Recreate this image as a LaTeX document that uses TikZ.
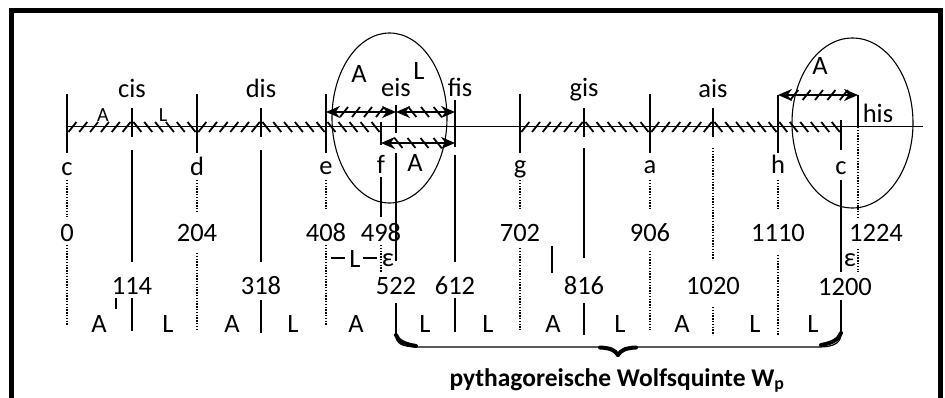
\documentclass[tikz,border=0pt]{standalone}
\usepackage{fontspec}
\setmainfont{Carlito}
\usetikzlibrary{arrows.meta}

% short diagonal strokes along a horizontal stretch: #1 start x, #2 end x,
% #3 y, #4 number of strokes, #5 half width (positive = /, negative = \)
\newcommand\hatchrow[5]{%
  \foreach \k in {1,...,#4}{%
    \pgfmathsetmacro\hx{#1+(#2-#1)*(\k-0.5)/#4}%
    \pgfmathsetmacro\hl{\hx-(#5)}%
    \pgfmathsetmacro\hr{\hx+(#5)}%
    \draw[hatch] (\hl,#3+5) -- (\hr,#3-5);
  }}

\begin{document}
\begin{tikzpicture}[x=1pt,y=-1pt,
  lbl/.style={inner sep=0pt,anchor=base,font=\fontsize{26.5}{31}\selectfont},
  sml/.style={inner sep=0pt,anchor=base,font=\fontsize{20}{24}\selectfont},
  tick/.style={line width=2.3pt},
  axis/.style={line width=1pt},
  solidv/.style={line width=1.2pt},
  dotv/.style={line width=1.2pt,dash pattern=on 1.4pt off 1.4pt},
  hatch/.style={line width=1.8pt},
  dimarrow/.style={line width=2pt,{Stealth[length=14pt,width=12pt]}-{Stealth[length=14pt,width=12pt]}},
  frame/.style={line width=5pt},
  oval/.style={line width=1.1pt},
]
\useasboundingbox (0,0) rectangle (945,398);

% frame
\draw[frame] (11.5,398) -- (11.5,10.5) -- (940.5,10.5) -- (940.5,398);

% axis
\coordinate (axL) at (67,127);
\coordinate (axR) at (923,127);
\draw[axis] (axL) -- (axR);

% hatching on the axis (/ = Apotome, \ = Limma)
\hatchrow{67}{132}{127}{6}{4}
\hatchrow{132}{197}{127}{6}{-4}
\hatchrow{197}{261}{127}{6}{4}
\hatchrow{261}{326}{127}{6}{-4}
\hatchrow{326}{381}{127}{5}{-4}
\hatchrow{520}{584}{127}{6}{4}
\hatchrow{584}{650}{127}{6}{-4}
\hatchrow{650}{713}{127}{6}{4}
\hatchrow{713}{778}{127}{6}{-4}
\hatchrow{778}{841}{127}{6}{-4}

% ticks on the axis
\foreach \x in {67,197,326,520,650} \draw[tick] (\x,94) -- (\x,153);
\draw[tick] (778,95) -- (778,153);
\foreach \x in {132,261,584,713} \draw[tick] (\x,108) -- (\x,137);
\draw[tick] (381,122) -- (381,145);
\draw[tick] (396,105) -- (396,133);
\draw[tick] (455,100) -- (455,147);
\draw[tick] (841,120) -- (841,150);
\draw[tick] (858,95) -- (858,127);

% dimension arrows
\coordinate (e1) at (326,112);  \coordinate (eis1) at (396,112);
\coordinate (fis1) at (455,112);
\coordinate (f2) at (381,143);  \coordinate (fis2) at (455,143);
\coordinate (h3) at (778,95);   \coordinate (his3) at (858,95);
\hatchrow{338}{386}{112}{4}{4}
\hatchrow{406}{444}{112}{3}{-4}
\hatchrow{392}{444}{143}{4}{-4}
\hatchrow{788}{850}{95}{5}{4}
\draw[dimarrow] (e1) -- (eis1);
\draw[dimarrow] (eis1) -- (fis1);
\draw[dimarrow] (f2) -- (fis2);
\draw[dimarrow] (h3) -- (his3);

% ovals
\draw[oval] (389.5,118) ellipse [x radius=57.5, y radius=85];
\draw[oval] (852.5,123) ellipse [x radius=60.5, y radius=85];

% note names
\node[lbl] (ncis) at (132,98) {cis};
\node[lbl] (ndis) at (261,98) {dis};
\node[lbl] (neis) at (396,97) {eis};
\node[lbl] (nfis) at (460,97) {fis};
\node[lbl] (ngis) at (584,97) {gis};
\node[lbl] (nais) at (713,98) {ais};
\node[lbl] (nhis) at (878,123) {his};
\node[lbl] (nc)  at (67,176)  {c};
\node[lbl] (nd)  at (197,176) {d};
\node[lbl] (ne)  at (326,175) {e};
\node[lbl] (nf)  at (381,174) {f};
\node[lbl] (ng)  at (520,174) {g};
\node[lbl] (na)  at (650,174) {a};
\node[lbl] (nh)  at (778,174) {h};
\node[lbl] (nc2) at (841,175) {c};

% interval letters at the top
\node[sml] (sA) at (103,122) {A};
\node[sml] (sL) at (163,122) {L};
\node[lbl] (oA1) at (359,83) {A};
\node[lbl] (oL1) at (419,80) {L};
\node[lbl] (oA2) at (415,172) {A};
\node[lbl] (oA3) at (820,75) {A};

% vertical guide lines
\draw[dotv] (67,180) -- (67,217);   \draw[dotv] (67,245) -- (67,325);
\draw[solidv] (132,150) -- (132,262); \draw[solidv] (132,298) -- (132,331);
\draw[solidv] (116,298) -- (116,309);
\draw[dotv] (197,180) -- (197,212);  \draw[dotv] (197,253) -- (197,331);
\draw[solidv] (261,150) -- (261,262); \draw[solidv] (261,300) -- (261,333);
\draw[dotv] (326,180) -- (326,210);  \draw[dotv] (326,245) -- (326,325);
\draw[solidv] (381,177) -- (381,217); \draw[dotv] (381,245) -- (381,272);
\draw[solidv] (396,153) -- (396,261); \draw[solidv] (396,303) -- (396,335);
\draw[solidv] (455,155) -- (455,262); \draw[solidv] (455,298) -- (455,332);
\draw[dotv] (520,180) -- (520,210);  \draw[dotv] (520,248) -- (520,330);
\draw[solidv] (584,148) -- (584,258); \draw[solidv] (584,303) -- (584,335);
\draw[solidv] (552,246) -- (552,273);
\draw[dotv] (650,180) -- (650,210);  \draw[dotv] (650,251) -- (650,330);
\draw[dotv] (713,148) -- (713,260);  \draw[dotv] (713,307) -- (713,335);
\draw[dotv] (778,180) -- (778,210);  \draw[dotv] (778,255) -- (778,335);
\draw[solidv] (841,180) -- (841,272); \draw[solidv] (841,300) -- (841,333);
\draw[dotv] (858,127) -- (858,218);  \draw[dotv] (858,249) -- (858,272);

% cents, first row
\node[lbl] (c0)    at (67,242)  {0};
\node[lbl] (c204)  at (197,242) {204};
\node[lbl] (c408)  at (326,242) {408};
\node[lbl] (c498)  at (381,242) {498};
\node[lbl] (c702)  at (520,242) {702};
\node[lbl] (c906)  at (650,242) {906};
\node[lbl] (c1110) at (778,242) {1110};
\node[lbl] (c1224) at (876,242) {1224};

% limma between 408 and 498, and the two commas
\coordinate (dL1) at (331,258); \coordinate (dL2) at (345,258);
\coordinate (dR1) at (363,258); \coordinate (dR2) at (377,258);
\draw[solidv] (dL1) -- (dL2);
\draw[solidv] (dR1) -- (dR2);
\node[lbl] (limL) at (355,267) {L};
\node[lbl] (eps1) at (388,266) {ε};
\node[lbl] (eps2) at (850,266) {ε};

% cents, second row
\node[lbl] (c114)  at (132,294) {114};
\node[lbl] (c318)  at (261,294) {318};
\node[lbl] (c522)  at (396,294) {522};
\node[lbl] (c612)  at (455,294) {612};
\node[lbl] (c816)  at (584,294) {816};
\node[lbl] (c1020) at (713,294) {1020};
\node[lbl] (c1200) at (845,295) {1200};

% step letters
\node[lbl] (s1)  at (99,332)  {A};
\node[lbl] (s2)  at (168,332) {L};
\node[lbl] (s3)  at (232,332) {A};
\node[lbl] (s4)  at (293,332) {L};
\node[lbl] (s5)  at (356,332) {A};
\node[lbl] (s6)  at (425,332) {L};
\node[lbl] (s7)  at (488,332) {L};
\node[lbl] (s8)  at (553,332) {A};
\node[lbl] (s9)  at (620,332) {L};
\node[lbl] (s10) at (682,332) {A};
\node[lbl] (s11) at (755,332) {L};
\node[lbl] (s12) at (813,332) {L};

% brace from 522 to 1200
\coordinate (bL) at (396,335);
\coordinate (bR) at (841,333);
\coordinate (bT) at (618,355);
\draw[line width=1.2pt] (bL) .. controls (396,344) and (402,347) .. (420,347)
  -- (600,347) .. controls (611,347) and (616,349) .. (bT)
  .. controls (620,349) and (625,347) .. (636,347)
  -- (818,347) .. controls (836,347) and (841,342) .. (bR);
\draw[line width=4pt,line cap=round] (bL) .. controls (398,341) and (404,344) .. (416,346);
\draw[line width=4pt,line cap=round] (bR) .. controls (839,339) and (833,343) .. (821,345);
\draw[line width=4pt,line cap=round] (600,347.5) .. controls (610,348) and (615,350) .. (bT);
\draw[line width=4pt,line cap=round] (636,347.5) .. controls (626,348) and (621,350) .. (bT);

\node[inner sep=0pt,anchor=base,font=\fontsize{25.5}{30}\selectfont\bfseries] (wolf) at (617,386)
  {pythagoreische Wolfsquinte W\textsubscript{p}};
\end{tikzpicture}
\end{document}
